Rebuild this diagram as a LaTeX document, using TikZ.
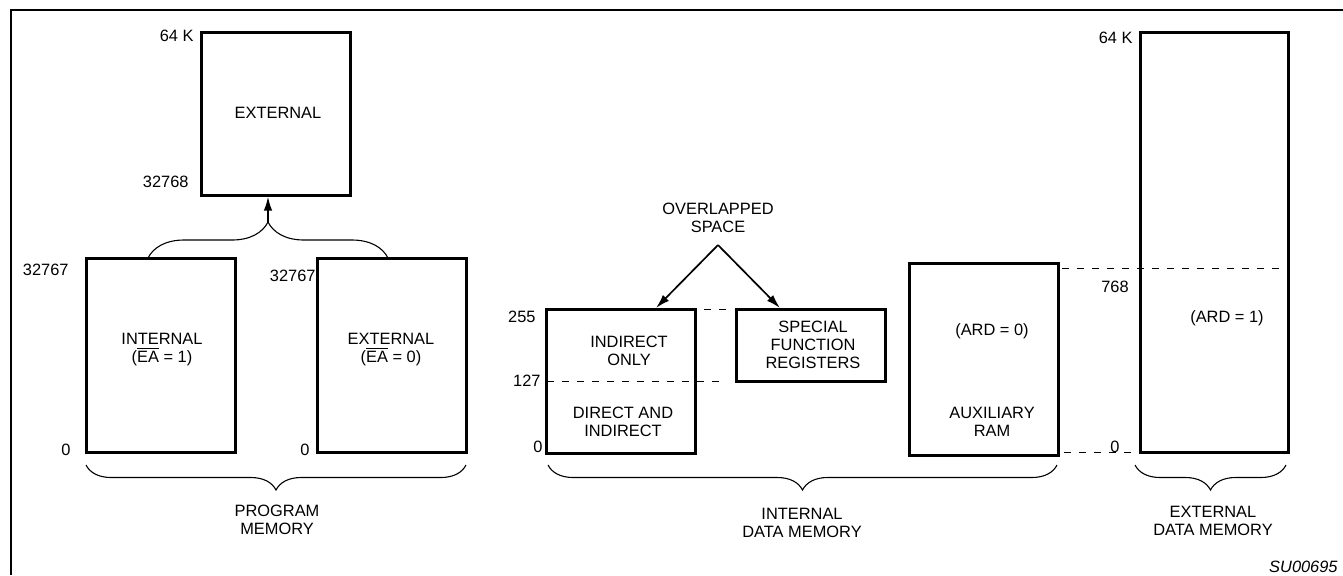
\documentclass[tikz,border=0pt]{standalone}
\usepackage{fontspec}
\setmainfont{Liberation Sans}
\usetikzlibrary{arrows.meta,decorations.pathreplacing}

\tikzset{
  mem/.style={draw, line width=1.5pt, inner sep=0pt, minimum width=74.5pt},
  lbl/.style={inner sep=0pt, align=center, font=\fontsize{8.2}{9}\selectfont},
  brc/.style={decorate, decoration={brace, amplitude=#1}, line width=0.55pt},
  gap/.style={line width=0.5pt, dash pattern=on 3.5pt off 4pt},
  ptr/.style={-{Latex[length=7pt,width=4.2pt]}, line width=0.85pt}
}

\begin{document}
\begin{tikzpicture}[x=0.5pt,y=-0.5pt]
  \useasboundingbox (0,0) rectangle (1343,575);
  \draw[line width=1.4pt] (11,575) -- (11,10) -- (1343,10);

  % program memory
  \node[mem, minimum height=81.5pt] (pext) at (275.5,113.5) {};
  \node[mem, minimum height=97pt] (pint) at (160.5,355) {};
  \node[mem, minimum height=97pt] (pexo) at (391.5,355) {};
  \node[lbl, anchor=east] (k64a) at (194,36) {64 K};
  \node[lbl] (pextt) at (278,113) {EXTERNAL};
  \node[lbl, anchor=east] (a32768) at (189,182) {32768};
  \node[lbl, anchor=east] (a32767a) at (69,270) {32767};
  \node[lbl] (z0a) at (66,450) {0};
  \node[lbl] (pintt) at (162,350) {INTERNAL\\($\overline{\mbox{EA}}$ = 1)};
  \node[lbl, anchor=east] (a32767b) at (316,276) {32767};
  \node[lbl] (z0b) at (305,450) {0};
  \node[lbl] (pexot) at (391,350) {EXTERNAL\\($\overline{\mbox{EA}}$ = 0)};
  \node[lbl] (progt) at (277,520) {PROGRAM\\MEMORY};

  \coordinate (bl) at (148,258);
  \coordinate (br) at (388,258);
  \coordinate (btip) at (268,222);
  \draw[brc=18pt] (bl) -- (br);
  \draw[ptr] (btip) -- (btip |- pext.south);

  % internal data memory
  \node[mem, minimum height=72pt] (dir) at (620.5,381) {};
  \node[mem, minimum height=36pt] (sfr) at (810.5,345) {};
  \node[lbl] (ovl) at (718,218) {OVERLAPPED\\SPACE};
  \node[lbl, anchor=east] (a255) at (536,317) {255};
  \node[lbl, anchor=east] (a127) at (541,381) {127};
  \node[lbl, anchor=east] (z0c) at (543,447) {0};
  \node[lbl] (indt) at (629,351) {INDIRECT\\ONLY};
  \node[lbl] (dirt) at (623,422) {DIRECT AND\\INDIRECT};
  \node[lbl] (sfrt) at (813,345) {SPECIAL\\FUNCTION\\REGISTERS};
  \node[lbl] (intt) at (802,523) {INTERNAL\\DATA MEMORY};

  \coordinate (apex) at (718,245);
  \coordinate (ov1) at (656,308);
  \coordinate (ov2) at (780,308);
  \foreach \to in {ov1, ov2}
    \draw[ptr] (apex) -- (\to);

  \coordinate (l127) at (547,381);
  \coordinate (r127) at (726,381);
  \coordinate (l255) at (704,309);
  \coordinate (r255) at (734,309);

  % auxiliary and external data memory
  \node[mem, minimum height=96pt] (aux) at (983.5,359) {};
  \node[mem, minimum width=74pt, minimum height=210pt] (edm) at (1214,242) {};
  \node[lbl] (ard0) at (992,331) {(ARD = 0)};
  \node[lbl] (auxt) at (992,422) {AUXILIARY\\RAM};
  \node[lbl, anchor=east] (k64b) at (1133,38) {64 K};
  \node[lbl] (a768) at (1115,287) {768};
  \node[lbl] (ard1) at (1227,318) {(ARD = 1)};
  \node[lbl] (z0d) at (1115,447) {0};
  \node[lbl] (edmt) at (1213,521) {EXTERNAL\\DATA MEMORY};
  \node[lbl, anchor=east, font=\fontsize{8.2}{9}\selectfont\itshape] (code) at (1338,567) {SU00695};

  \coordinate (l768) at (1062,268);
  \coordinate (r768) at (1283,268);
  \coordinate (lz) at (1064,452);
  \coordinate (rz) at (1140,452);

  \foreach \from/\to in {l127/r127, l255/r255, l768/r768, lz/rz}
    \draw[gap] (\from) -- (\to);

  \coordinate (pb1) at (86,465);
  \coordinate (pb2) at (466,465);
  \coordinate (ib1) at (548,465);
  \coordinate (ib2) at (1057,465);
  \coordinate (eb1) at (1135,465);
  \coordinate (eb2) at (1286,465);
  \foreach \from/\to in {pb2/pb1, ib2/ib1, eb2/eb1}
    \draw[brc=12.5pt] (\from) -- (\to);
\end{tikzpicture}
\end{document}
